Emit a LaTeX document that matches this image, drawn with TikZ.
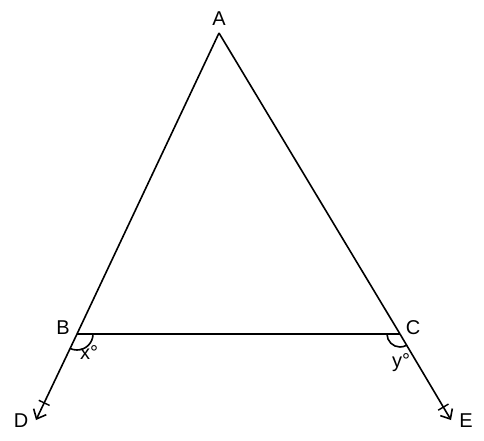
\documentclass[tikz,border=0pt]{standalone}
\usepackage{fontspec}
\setmainfont{Liberation Sans}
\usetikzlibrary{calc,arrows.meta}
\begin{document}
\begin{tikzpicture}[x=1pt,y=-1pt,
  seg/.style={line width=1.6pt},
  lbl/.style={font=\fontsize{20}{22}\selectfont, inner sep=0pt},
  tick/.style={line width=1.4pt},
  ray/.style={line width=1.6pt,-{Straight Barb[length=8pt,width=14pt,line width=1.6pt]}}]
\useasboundingbox (0,0) rectangle (484,440);
\coordinate (A) at (219,33);
\coordinate (B) at (77,334);
\coordinate (C) at (400,334);
\coordinate (D) at (36,420);
\coordinate (E) at (451,420);
\draw[seg] (A) -- (B);
\draw[seg] (A) -- (C);
\draw[seg] (B) -- (C);
\draw[ray] (B) -- (D);
\draw[ray] (C) -- (E);
% ticks
\path ($(D)!19pt!(B)$) coordinate (td);
\draw[tick] ($(td)!6pt!90:(B)$) -- ($(td)!6pt!-90:(B)$);
\path ($(E)!15pt!(C)$) coordinate (te);
\draw[tick] ($(te)!6pt!90:(C)$) -- ($(te)!6pt!-90:(C)$);
% angle arcs
\draw[seg] ($(B)+(16,0)$) arc[start angle=0, end angle=115.3, radius=16];
\draw[seg] ($(C)+(-13,0)$) arc[start angle=180, end angle=59, radius=13];
% labels
\node[lbl] (lA) at (219,19) {A};
\node[lbl] (lB) at (63,328) {B};
\node[lbl] (lC) at (413,328) {C};
\node[lbl] (lD) at (21,421) {D};
\node[lbl] (lE) at (466,421) {E};
\node[lbl] (lx) at (89,353) {x°};
\node[lbl] (ly) at (401,363) {y°};
\end{tikzpicture}
\end{document}
